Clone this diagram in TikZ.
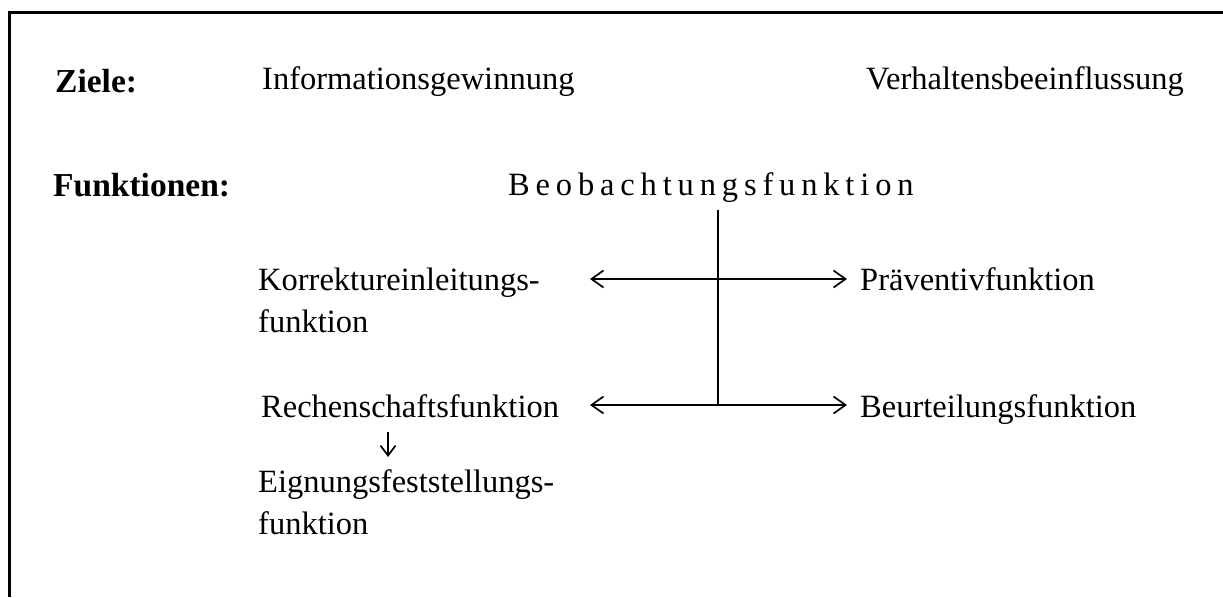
\documentclass[tikz,border=0pt]{standalone}
\usepackage{fontspec}
\setmainfont{Liberation Serif}
\newfontfamily\spacedfont[LetterSpace=18]{Liberation Serif}
\usetikzlibrary{arrows.meta}
\begin{document}
\begin{tikzpicture}[x=1pt,y=-1pt,
  lbl/.style={anchor=base west, inner sep=0pt, align=left,
    font=\fontsize{32.5}{42}\selectfont},
  headlbl/.style={lbl, font=\fontsize{33.5}{42}\selectfont\bfseries},
  link/.style={line width=1.7pt},
  tip/.style={-{Straight Barb[length=12pt,width=17pt]}},
  twotip/.style={{Straight Barb[length=12pt,width=17pt]}-{Straight Barb[length=12pt,width=17pt]}}]
\useasboundingbox (0,0) rectangle (1223,597);
\fill[white] (0,0) rectangle (1223,597);
% open frame: left and top edge
\draw[line width=3pt] (9.5,597) -- (9.5,12.5) -- (1223,12.5);

% headings
\node[headlbl] (ziele) at (55,92) {Ziele:};
\node[headlbl] (funk) at (53,196) {Funktionen:};

% goals
\node[lbl] (info) at (262,89) {Informationsgewinnung};
\node[lbl] (verh) at (866,89) {Verhaltensbeeinflussung};

% functions (two-line labels are anchored at the baseline of their last line)
\node[lbl, font=\fontsize{32.5}{42}\spacedfont] (beob) at (508,195) {Beobachtungsfunktion};
\node[lbl] (korr) at (258,332) {Korrektureinleitungs-\\funktion};
\node[lbl] (praev) at (860,290) {Präventivfunktion};
\node[lbl] (rech) at (261,417) {Rechenschaftsfunktion};
\node[lbl] (beur) at (860,417) {Beurteilungsfunktion};
\node[lbl] (eign) at (258,534) {Eignungsfeststellungs-\\funktion};

% connector points
\coordinate (top) at (718,210);
\coordinate (j1) at (718,279);
\coordinate (j2) at (718,405);
\coordinate (kl) at (590,279);
\coordinate (pr) at (847,279);
\coordinate (rl) at (590,405);
\coordinate (br) at (847,405);
\coordinate (d1) at (388,432);
\coordinate (d2) at (388,457);

\draw[link] (top) -- (j2);
\draw[link, twotip] (kl) -- (pr);
\draw[link, tip] (j2) -- (rl);
\draw[link, tip] (j2) -- (br);
\draw[link, -{Straight Barb[length=10pt,width=15pt]}] (d1) -- (d2);
\end{tikzpicture}
\end{document}
